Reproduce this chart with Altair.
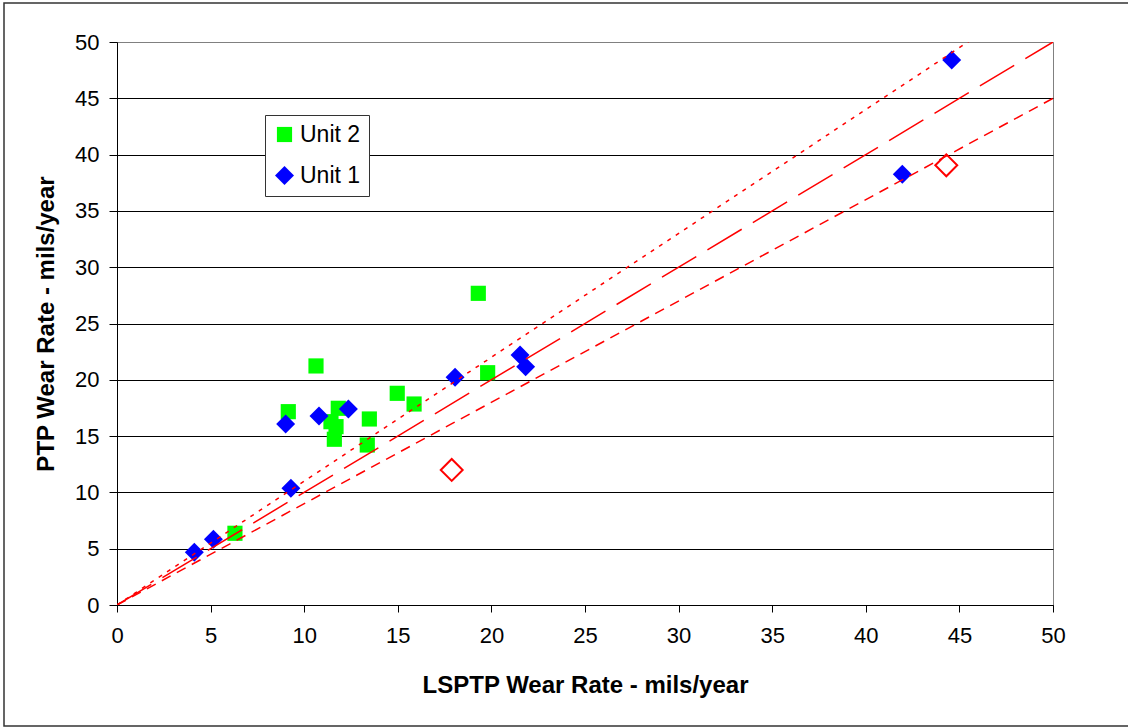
import altair as alt
import pandas as pd

# Measured wear rates (mils/year): LSPTP on x, PTP on y
unit1_x = [4.13, 5.15, 9.29, 9.01, 10.79, 12.36, 18.06, 21.53, 21.83, 41.95, 44.59]
unit1_y = [4.68, 5.83, 10.36, 16.07, 16.79, 17.41, 20.22, 22.20, 21.16, 38.25, 48.40]

unit2_x = [6.30, 9.15, 10.63, 11.82, 11.43, 11.70, 11.61, 13.48, 13.37, 14.97, 15.87, 19.80, 19.30]
unit2_y = [6.37, 17.17, 21.23, 17.47, 16.28, 15.84, 14.72, 16.52, 14.21, 18.80, 17.85, 20.63, 27.68]

# Points shown as open red diamonds
open_x = [17.88, 44.30]
open_y = [11.99, 39.05]

# Reference lines y = k * x
ratios = [1.1, 1.0, 0.9]
line_x = [0, 50]

FONT = "Liberation Sans"
UNITS = ["Unit 2", "Unit 1"]

pts = pd.DataFrame(
    {"x": unit2_x + unit1_x,
     "y": unit2_y + unit1_y,
     "unit": ["Unit 2"] * len(unit2_x) + ["Unit 1"] * len(unit1_x)}
)
open_df = pd.DataFrame({"x": open_x, "y": open_y})

xscale = alt.Scale(domain=[0, 50], nice=False, zero=True)
yscale = alt.Scale(domain=[0, 50], nice=False, zero=True)

xaxis = alt.Axis(
    values=list(range(0, 55, 5)), grid=False, title="LSPTP Wear Rate - mils/year",
    domainColor="#000000", tickColor="#000000", tickSize=7, labelPadding=13,
    labelFlush=False, labelFontSize=22, labelFont=FONT, labelColor="#000000",
    titleFont=FONT, titleFontSize=24, titleFontWeight="bold", titleColor="#000000",
    titleBaseline="alphabetic", titleY=87,
)
yaxis = alt.Axis(
    values=list(range(0, 55, 5)), grid=True,
    gridColor={"condition": {"test": "datum.value == 50", "value": "#808080"}, "value": "#000000"},
    gridWidth=1, title="PTP Wear Rate - mils/year",
    domainColor="#000000", tickColor="#000000", tickSize=8, labelPadding=10,
    labelFlush=False, labelFontSize=22, labelFont=FONT, labelColor="#000000",
    titleFont=FONT, titleFontSize=24, titleFontWeight="bold", titleColor="#000000",
    titleBaseline="alphabetic", titleAngle=-90, titleX=-64, titleY=281.5, titleAlign="center",
)

points = alt.Chart(pts).mark_point(filled=True, opacity=1).encode(
    x=alt.X("x:Q", scale=xscale, axis=xaxis),
    y=alt.Y("y:Q", scale=yscale, axis=yaxis),
    color=alt.Color(
        "unit:N",
        scale=alt.Scale(domain=UNITS, range=["#00FF00", "#0000FF"]),
        legend=alt.Legend(
            title=None, orient="none", legendX=148, legendY=73,
            fillColor="#FFFFFF", strokeColor="#333333", padding=8,
            labelFont=FONT, labelFontSize=23, labelColor="#000000",
            symbolSize=220, symbolOpacity=1, rowPadding=16, labelOffset=4,
        ),
    ),
    shape=alt.Shape(
        "unit:N",
        scale=alt.Scale(domain=UNITS, range=["square", "diamond"]),
    ),
    size=alt.Size(
        "unit:N", scale=alt.Scale(domain=UNITS, range=[230, 360]), legend=None
    ),
)

open_pts = alt.Chart(open_df).mark_point(
    shape="diamond", filled=False, color="#FF0000", strokeWidth=2, size=480, opacity=1
).encode(x=alt.X("x:Q", scale=xscale), y=alt.Y("y:Q", scale=yscale))

dashes = {1.1: [4, 6], 1.0: [40, 13], 0.9: [10, 7]}
lines = []
for k in ratios:
    df = pd.DataFrame({"x": line_x, "y": [k * v for v in line_x]})
    lines.append(
        alt.Chart(df).mark_line(
            color="#FF0000", strokeWidth=1.5, strokeDash=dashes[k], clip=True
        ).encode(x=alt.X("x:Q", scale=xscale), y=alt.Y("y:Q", scale=yscale))
    )

frame = alt.Chart(pd.DataFrame({"a": [0]})).mark_rect(
    filled=False, stroke="#333333", strokeWidth=1.5, clip=False
).encode(
    x=alt.value(-113), x2=alt.value(1013), y=alt.value(-39), y2=alt.value(684)
)

chart = alt.layer(frame, points, open_pts, *lines).properties(
    width=936, height=563,
    autosize=alt.AutoSizeParams(type="none"),
    padding={"left": 117, "top": 42, "right": 75, "bottom": 122},
    background="#FFFFFF",
).configure_view(stroke="#808080", strokeWidth=1)

chart.save("out.html", embed_options={"renderer": "svg", "actions": False})
